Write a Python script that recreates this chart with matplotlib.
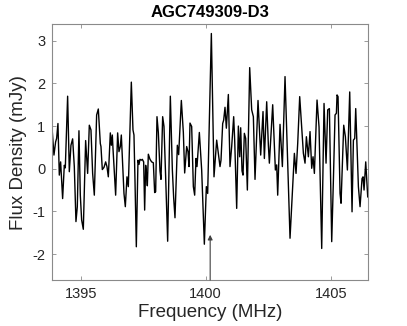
import matplotlib
matplotlib.use("Agg")
import matplotlib.pyplot as plt

# spectrum (frequency in MHz, flux density in mJy)
freq = [1393.867, 1393.933, 1394.000, 1394.040, 1394.093, 1394.147, 1394.200, 1394.280,
        1394.347, 1394.387, 1394.480, 1394.547, 1394.613, 1394.680, 1394.747, 1394.813,
        1394.867, 1394.933, 1394.987, 1395.040, 1395.107, 1395.200, 1395.280, 1395.347,
        1395.413, 1395.480, 1395.547, 1395.640, 1395.707, 1395.787, 1395.813, 1395.867,
        1395.933, 1396.000, 1396.053, 1396.107, 1396.187, 1396.227, 1396.267, 1396.293,
        1396.400, 1396.480, 1396.533, 1396.587, 1396.627, 1396.693, 1396.733, 1396.787,
        1396.853, 1396.907, 1397.027, 1397.093, 1397.133, 1397.173, 1397.227, 1397.293,
        1397.333, 1397.373, 1397.427, 1397.467, 1397.520, 1397.560, 1397.600, 1397.640,
        1397.667, 1397.707, 1397.773, 1397.840, 1397.907, 1397.960, 1398.000, 1398.053,
        1398.107, 1398.173, 1398.213, 1398.280, 1398.333, 1398.400, 1398.480, 1398.587,
        1398.667, 1398.720, 1398.773, 1398.867, 1398.920, 1399.027, 1399.107, 1399.160,
        1399.240, 1399.293, 1399.333, 1399.373, 1399.440, 1399.507, 1399.560, 1399.613,
        1399.653, 1399.693, 1399.747, 1399.840, 1399.947, 1400.027, 1400.080, 1400.227,
        1400.333, 1400.440, 1400.480, 1400.573, 1400.613, 1400.680, 1400.720, 1400.773,
        1400.827, 1400.907, 1400.973, 1401.040, 1401.120, 1401.160, 1401.240, 1401.307,
        1401.360, 1401.400, 1401.453, 1401.493, 1401.547, 1401.600, 1401.667, 1401.760,
        1401.840, 1401.907, 1401.973, 1402.093, 1402.200, 1402.293, 1402.347, 1402.440,
        1402.507, 1402.547, 1402.680, 1402.787, 1402.840, 1402.880, 1402.973, 1403.067,
        1403.173, 1403.373, 1403.547, 1403.613, 1403.680, 1403.760, 1403.907, 1403.973,
        1404.027, 1404.107, 1404.173, 1404.240, 1404.293, 1404.347, 1404.453, 1404.533,
        1404.640, 1404.733, 1404.813, 1404.880, 1404.947, 1405.040, 1405.107, 1405.173,
        1405.227, 1405.253, 1405.293, 1405.373, 1405.413, 1405.520, 1405.587, 1405.667,
        1405.760, 1405.853, 1405.907, 1405.960, 1406.000, 1406.107, 1406.173, 1406.253,
        1406.293, 1406.333, 1406.400, 1406.480]
flux = [0.87, 0.32, 0.63, 0.71, 1.06, -0.15, 0.16, -0.70,
        0.08, 0.02, 1.70, -0.07, 0.55, 0.70, 0.05, -1.24,
        -0.89, 0.89, -0.62, -1.20, -1.42, 0.66, -0.11, 1.02,
        0.91, -0.11, -0.62, 1.26, 1.40, 0.59, 0.52, -0.02,
        0.03, 0.16, 0.05, -0.19, 0.84, 0.55, 0.79, 0.48,
        -0.62, 0.84, 0.40, 0.52, 0.79, -0.03, -0.58, -0.89,
        -0.19, -0.42, 2.03, 0.91, 0.79, -0.27, -1.83, 0.20,
        0.10, 0.22, 0.20, 0.22, 0.16, -0.97, 0.08, -0.15,
        -0.40, 0.34, 0.22, 0.16, 0.14, -0.56, -0.54, 1.22,
        0.85, -0.05, -0.25, 1.22, 0.99, -0.20, -1.70, 1.70,
        -0.02, -0.68, -1.15, 0.55, 0.33, 1.60, 0.85, -0.10,
        0.52, 0.40, 0.05, 1.07, 0.99, -0.42, -0.62, 0.24,
        0.05, 0.40, 0.85, -0.03, -1.77, -0.42, -0.58, 3.17,
        -0.19, 0.67, 0.48, 0.05, 0.20, 1.06, 1.14, 1.44,
        0.95, 1.74, 0.05, 0.52, 1.22, 0.67, -0.93, 1.00,
        0.28, 0.96, -0.05, -0.15, 0.83, 0.71, -0.50, 2.37,
        1.38, 1.22, -0.25, 1.60, 0.32, 1.34, 0.24, 1.57,
        0.55, 0.13, 1.50, -0.03, 0.09, -0.62, 1.04, 0.05,
        2.16, -1.63, 0.36, -0.11, 0.59, 1.69, 0.36, 0.13,
        0.75, 0.28, 0.87, 0.01, 0.28, -0.11, 1.61, 0.98,
        -1.87, 1.53, 0.13, 1.38, 1.41, -1.71, -0.27, 1.26,
        1.30, 1.73, 1.69, -0.58, -0.81, 1.02, 0.75, -0.03,
        1.80, -1.01, 0.67, 0.71, 1.41, -0.42, -0.89, -0.23,
        -0.19, -0.50, 0.16, -0.66]

title = "AGC749309-D3"
xticks = [1395, 1400, 1405]
yticks = [-2, -1, 0, 1, 2, 3]
arrow_freq = 1400.18
arrow_tip = -1.55

plt.rcParams['font.family'] = ['Liberation Sans', 'DejaVu Sans']
plt.rcParams['axes.unicode_minus'] = False
txt = '#262626'
edge = '#8a8a8a'

fig = plt.figure(figsize=(4.07, 3.26), dpi=100)
ax = fig.add_axes([0.1285, 0.141, 0.775, 0.785])

ax.plot(freq, flux, color='black', lw=1.0)

ax.set_xlim(freq[0], freq[-1])
ax.set_ylim(-2.61, 3.39)
ax.set_xticks(xticks)
ax.set_yticks(yticks)

ymin = ax.get_ylim()[0]
ax.annotate('', xy=(arrow_freq, arrow_tip), xytext=(arrow_freq, ymin),
            arrowprops=dict(arrowstyle='-|>', color='#404040', lw=0.8,
                            mutation_scale=7, shrinkA=0, shrinkB=0))

for s in ax.spines.values():
    s.set_color(edge)
    s.set_linewidth(0.8)
ax.tick_params(direction='in', length=3, width=0.6, color=edge,
               top=True, right=True, labelsize=10.5, labelcolor=txt, pad=5)

ax.set_xlabel('Frequency (MHz)', fontsize=13.5, color=txt, labelpad=2)
ax.set_ylabel('Flux Density (mJy)', fontsize=13.5, color=txt, labelpad=4)
ax.set_title(title, fontsize=12, fontweight='bold', color='black', pad=5)

fig.savefig('out.png', dpi=100)
